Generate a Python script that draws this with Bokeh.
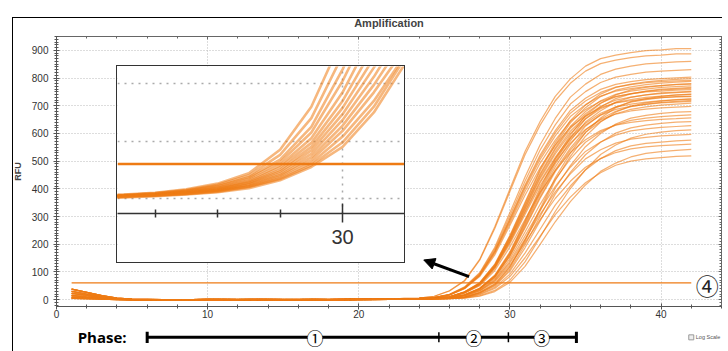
from bokeh.plotting import figure
from bokeh.layouts import column
from bokeh.models import (Range1d, LinearAxis, FixedTicker, SingleIntervalTicker, Arrow, NormalHead,
                          Span, CustomJSTickFormatter, Div)
from bokeh.core.properties import value
from bokeh.embed import file_html
from bokeh.resources import INLINE

# ---------------- data ----------------
early_cycles = list(range(1, 23))
late_cycles = list(range(23, 43))

baselines = [
    [38, 26, 14, 5, 2, 1, 0, -1, 0, 1, 0, 0, 1, 0, -1, 0, 1, 0, 0, 1, 1, 2],
    [30, 20, 11, 4, 1, 0, -2, -2, -1, 0, 1, 0, 0, 1, 0, -1, 0, 1, 1, 0, 1, 1],
    [22, 15, 8, 3, 1, 0, -1, -3, -1, 0, 0, 1, 0, 0, 1, 0, 0, 0, 1, 1, 0, 1],
    [15, 10, 6, 2, 0, -1, -2, -2, 0, 1, 0, -1, 0, 1, 0, 0, -1, 0, 0, 1, 1, 1],
    [9, 6, 3, 1, 0, 0, -1, -1, 0, 0, 1, 0, -1, 0, 0, 1, 0, 0, 1, 0, 1, 2],
    [4, 3, 2, 0, -1, -1, -2, -1, 0, 0, 0, 0, 1, 0, 0, 0, 1, 0, 0, 1, 1, 1],
]

high_curves = [
    [4, 5, 12, 32, 69, 145, 263, 399, 535, 643, 734, 797, 843, 870, 883, 892, 899, 902, 906, 906],
    [4, 5, 12, 31, 67, 142, 257, 390, 523, 630, 718, 781, 825, 852, 865, 874, 880, 883, 887, 887],
    [3, 4, 8, 19, 46, 97, 189, 314, 443, 559, 654, 731, 778, 813, 832, 843, 851, 855, 858, 860],
    [2, 4, 7, 18, 44, 94, 183, 303, 427, 540, 631, 706, 751, 784, 803, 813, 821, 825, 828, 830],
]

band_curves = [
    [2, 4, 7, 18, 43, 91, 177, 293, 414, 522, 610, 683, 727, 759, 777, 787, 794, 798, 801, 803],
    [2, 3, 5, 10, 28, 61, 128, 231, 351, 471, 567, 646, 702, 742, 766, 778, 786, 792, 795, 798],
    [2, 4, 7, 17, 42, 89, 174, 289, 408, 515, 602, 673, 717, 748, 767, 776, 783, 787, 790, 792],
    [2, 3, 5, 10, 28, 60, 126, 229, 347, 465, 559, 638, 693, 733, 756, 768, 776, 782, 785, 788],
    [2, 2, 4, 7, 17, 41, 88, 172, 285, 403, 508, 594, 665, 708, 739, 757, 766, 773, 777, 780],
    [2, 4, 7, 17, 41, 88, 171, 284, 401, 506, 591, 661, 704, 735, 753, 762, 769, 773, 776, 778],
    [2, 3, 5, 10, 27, 59, 124, 224, 340, 455, 548, 625, 679, 718, 741, 753, 760, 766, 769, 772],
    [2, 2, 4, 7, 17, 41, 87, 169, 280, 396, 499, 584, 653, 695, 726, 743, 753, 760, 763, 766],
    [2, 3, 5, 10, 27, 58, 122, 221, 336, 450, 542, 618, 671, 710, 732, 744, 752, 757, 760, 763],
    [2, 4, 7, 17, 40, 86, 167, 277, 390, 493, 576, 644, 686, 716, 734, 743, 750, 753, 756, 758],
    [2, 2, 4, 7, 17, 40, 85, 166, 275, 388, 490, 573, 641, 682, 713, 730, 739, 746, 749, 752],
    [2, 3, 5, 10, 26, 57, 120, 218, 330, 443, 533, 608, 660, 698, 720, 731, 739, 744, 747, 750],
    [1, 1, 3, 4, 10, 26, 57, 119, 216, 328, 440, 529, 603, 656, 693, 715, 726, 734, 739, 742],
    [1, 3, 4, 10, 26, 56, 119, 215, 326, 437, 526, 600, 652, 689, 711, 722, 730, 735, 738, 741],
    [1, 2, 4, 7, 16, 39, 83, 162, 269, 380, 479, 560, 626, 667, 696, 713, 722, 729, 733, 735],
    [2, 4, 7, 16, 39, 83, 161, 268, 377, 476, 557, 623, 663, 693, 710, 718, 725, 729, 732, 733],
    [1, 1, 3, 4, 9, 25, 55, 116, 211, 320, 430, 517, 590, 641, 677, 699, 710, 717, 722, 725],
    [1, 3, 4, 9, 25, 55, 116, 210, 319, 427, 514, 586, 637, 673, 695, 706, 713, 718, 721, 724],
    [1, 2, 4, 6, 16, 38, 81, 158, 263, 371, 468, 547, 612, 652, 680, 697, 706, 712, 716, 719],
    [1, 3, 4, 9, 25, 54, 115, 208, 315, 422, 508, 580, 630, 666, 687, 698, 705, 710, 713, 716],
]

low_curves = [
    [1, 2, 4, 6, 16, 38, 80, 156, 259, 366, 462, 540, 604, 643, 671, 687, 696, 702, 706, 709],
    [1, 3, 4, 9, 24, 53, 112, 202, 307, 412, 496, 565, 614, 649, 670, 681, 688, 692, 695, 698],
    [1, 1, 3, 4, 9, 24, 52, 109, 198, 300, 402, 484, 552, 600, 634, 655, 665, 672, 677, 679],
    [1, 2, 3, 6, 15, 35, 75, 147, 244, 344, 434, 508, 568, 605, 631, 647, 655, 661, 664, 667],
    [1, 3, 4, 9, 23, 50, 105, 190, 289, 387, 466, 531, 577, 610, 630, 640, 646, 651, 653, 656],
    [1, 1, 3, 4, 8, 23, 49, 103, 187, 284, 381, 459, 523, 568, 601, 620, 630, 636, 641, 643],
    [1, 2, 3, 6, 14, 33, 71, 138, 230, 324, 409, 478, 535, 569, 594, 609, 616, 622, 625, 628],
    [1, 1, 2, 3, 6, 14, 33, 70, 136, 225, 318, 401, 469, 524, 558, 583, 597, 605, 610, 613],
    [1, 2, 3, 5, 13, 32, 68, 132, 218, 308, 389, 454, 508, 541, 565, 579, 586, 591, 594, 597],
    [1, 1, 2, 3, 8, 20, 44, 92, 168, 254, 341, 410, 468, 509, 538, 555, 564, 569, 573, 576],
    [1, 2, 3, 5, 12, 30, 64, 124, 205, 289, 365, 427, 478, 509, 531, 544, 551, 556, 559, 561],
    [1, 1, 2, 3, 5, 12, 29, 62, 120, 199, 281, 354, 414, 463, 493, 515, 528, 534, 539, 542],
    [1, 1, 2, 3, 7, 18, 40, 83, 151, 229, 307, 370, 422, 458, 485, 500, 508, 513, 517, 519],
]

threshold_rfu = 60
threshold_cycles = [1, 42]

# zoomed inset (cycles 26-31)
inset_cycles = [26, 26.5, 27, 27.5, 28, 28.5, 29, 29.5, 30, 30.5, 31]
inset_curves = [
    [6, 7, 10, 16, 26, 44, 85, 160, 280, 400, 520],
    [5, 6, 9, 15, 24, 40, 76, 140, 250, 370, 490],
    [4, 6, 9, 14, 22, 37, 68, 125, 225, 340, 460],
    [4, 5, 8, 13, 21, 35, 63, 115, 205, 315, 430],
    [4, 5, 8, 12, 19, 32, 58, 105, 185, 290, 400],
    [3, 5, 7, 12, 18, 30, 54, 97, 170, 265, 370],
    [4, 5, 7, 11, 17, 28, 50, 90, 158, 245, 345],
    [3, 4, 7, 10, 16, 27, 47, 84, 147, 228, 320],
    [3, 4, 6, 10, 15, 25, 44, 78, 137, 212, 300],
    [3, 4, 6, 9, 14, 24, 41, 72, 127, 198, 280],
    [3, 4, 6, 9, 14, 22, 39, 67, 118, 185, 262],
    [2, 4, 6, 8, 13, 21, 36, 62, 108, 170, 250],
    [1, 3, 5, 8, 12, 20, 34, 58, 98, 160, 245],
    [0, 2, 4, 7, 11, 18, 32, 55, 90, 150, 235],
]
inset_grid_rfu = [0, 100, 200]
inset_major_tick = [30]
inset_minor_ticks = [27, 28, 29]

phase_bounds = [6.0, 25.3, 29.9, 34.4]
phase_label_x = [17.1, 27.6, 32.1]
phase_labels = ["①", "②", "③"]

ORANGE = "#EE7B14"
FONT = "Liberation Sans"
W = 724

# ---------------- main plot ----------------
p = figure(width=W, height=322, x_range=Range1d(0, 44), y_range=Range1d(-25, 950),
           title="Amplification", output_backend="svg", toolbar_location=None,
           min_border_left=56, min_border_right=3, min_border_top=36, min_border_bottom=16)
p.title.align = "center"
p.title.text_font = FONT
p.title.text_font_size = "11px"
p.title.text_font_style = "bold"
p.title.standoff = 16
p.outline_line_color = "#666666"

xt = SingleIntervalTicker(interval=10, num_minor_ticks=5)
yt = SingleIntervalTicker(interval=100, num_minor_ticks=10)
p.xaxis.ticker = xt
p.yaxis.ticker = yt
for ax in (p.xaxis[0], p.yaxis[0]):
    ax.major_label_text_font = FONT
    ax.major_label_text_font_size = "10px"
    ax.major_label_text_color = "#333333"
    ax.axis_line_color = "#555555"
    ax.major_tick_line_color = "#555555"
    ax.minor_tick_line_color = "#555555"
    ax.major_tick_in = 3
    ax.major_tick_out = 3
    ax.minor_tick_in = 2
    ax.minor_tick_out = 2
p.xaxis.major_label_standoff = 0
p.yaxis.major_label_standoff = 5
p.yaxis.axis_label = "RFU"
p.yaxis.axis_label_text_font = FONT
p.yaxis.axis_label_text_font_size = "9px"
p.yaxis.axis_label_text_font_style = "bold"
p.yaxis.axis_label_standoff = 6

for loc, tk in (("above", SingleIntervalTicker(interval=10, num_minor_ticks=5)),
                ("right", SingleIntervalTicker(interval=100, num_minor_ticks=10))):
    ax = LinearAxis(ticker=tk, formatter=CustomJSTickFormatter(code="return ''"),
                    major_label_standoff=0,
                    major_tick_in=3, major_tick_out=0, minor_tick_in=2, minor_tick_out=0,
                    axis_line_color="#666666", major_tick_line_color="#666666",
                    minor_tick_line_color="#666666")
    p.add_layout(ax, loc)

p.xgrid.ticker = xt
p.ygrid.ticker = yt
p.grid.grid_line_color = "#bbbbbb"
p.grid.grid_line_dash = "1 2"

all_curves = high_curves + band_curves + low_curves
xs = [early_cycles + late_cycles for _ in all_curves]
ys = [baselines[i % len(baselines)] + c for i, c in enumerate(all_curves)]
p.multi_line(xs, ys, line_color=ORANGE, line_alpha=0.6, line_width=1.25)
p.line(threshold_cycles, [threshold_rfu, threshold_rfu], line_color=ORANGE, line_width=1.2)

p.text(x=[43.05], y=[52], text=["④"], text_font=value("Noto Sans CJK JP"), text_font_size="23px",
       text_align="center", text_baseline="middle", text_color="#222222")
p.add_layout(Arrow(end=NormalHead(size=11, fill_color="black", line_color="black"),
                   x_start=27.3, y_start=83, x_end=24.3, y_end=143,
                   line_color="black", line_width=3))

# ---------------- phase row ----------------
ph = figure(width=W, height=27, x_range=p.x_range, y_range=Range1d(0, 1),
            x_axis_location=None, y_axis_location=None, output_backend="svg", toolbar_location=None,
            min_border_left=56, min_border_right=3, min_border_top=0, min_border_bottom=0)
ph.outline_line_color = None
ph.grid.visible = False
row_y = 0.45
ph.line([phase_bounds[0], phase_bounds[-1]], [row_y, row_y], line_color="black", line_width=3)
ph.segment(x0=[phase_bounds[0], phase_bounds[-1]], y0=[0.24, 0.24], x1=[phase_bounds[0], phase_bounds[-1]],
           y1=[0.66, 0.66], line_color="black", line_width=3)
ph.segment(x0=phase_bounds[1:3], y0=[0.27, 0.27], x1=phase_bounds[1:3], y1=[0.64, 0.64],
           line_color="black", line_width=1.5)
ph.scatter(phase_label_x, [row_y] * 3, size=15, fill_color="white", line_color=None)
ph.text(x=phase_label_x, y=[row_y] * 3, text=phase_labels, text_font=value("Noto Sans CJK JP"),
        text_font_size="17px", text_align="center", text_baseline="middle", text_color="black")
ph.text(x=[1.4], y=[row_y], text=["Phase:"], text_font=value("Open Sans"), text_font_size="15px",
        text_font_style="bold", text_align="left", text_baseline="middle", text_color="black")
ph.scatter([42.0], [row_y], marker="square", size=5, fill_color="#eeeeee", line_color="#999999")
ph.text(x=[42.3], y=[row_y], text=["Log Scale"], text_font=value(FONT), text_font_size="5.5px",
        text_align="left", text_baseline="middle", text_color="#555555")

# outer picture frame (top and left edges)
frame_box = Div(text="", width=710, height=338,
                styles={"position": "absolute", "left": "7px", "top": "12px",
                        "border-top": "1px solid #000000", "border-left": "1px solid #000000",
                        "pointer-events": "none"})

layout = column(p, ph, frame_box)

# ---------------- inset (separate root, placed over the main plot) ----------------
inset = figure(frame_width=287, frame_height=147, x_range=Range1d(26.4, 30.99), y_range=Range1d(-26, 230),
               output_backend="svg", toolbar_location=None,
               min_border=0, min_border_left=0, min_border_right=0, min_border_top=0,
               min_border_bottom=49,
               styles={"position": "absolute", "left": "116px", "top": "65px",
                       "border": "1px solid #333333"})
inset.yaxis.visible = False
inset.outline_line_color = None
ix = inset.xaxis[0]
ix.ticker = FixedTicker(ticks=inset_major_tick, minor_ticks=inset_minor_ticks)
ix.axis_line_color = "#333333"
ix.axis_line_width = 1.5
ix.major_tick_line_color = "#333333"
ix.major_tick_line_width = 1.5
ix.minor_tick_line_color = "#333333"
ix.minor_tick_line_width = 1.5
ix.major_tick_in = 10
ix.major_tick_out = 9
ix.minor_tick_in = 4
ix.minor_tick_out = 4
ix.major_label_text_font = FONT
ix.major_label_text_font_size = "20px"
ix.major_label_text_color = "#333333"
ix.major_label_standoff = 7
inset.xgrid.ticker = FixedTicker(ticks=inset_major_tick)
inset.ygrid.ticker = FixedTicker(ticks=inset_grid_rfu)
inset.grid.grid_line_color = "#aaaaaa"
inset.grid.grid_line_width = 1.5
inset.grid.grid_line_dash = "2 5"
inset.multi_line([inset_cycles] * len(inset_curves), inset_curves, line_color=ORANGE,
                 line_alpha=0.55, line_width=2.6)
inset.add_layout(Span(location=threshold_rfu, dimension="width", line_color=ORANGE, line_width=2.5))

open("out.html", "w").write(file_html([layout, inset], INLINE))
